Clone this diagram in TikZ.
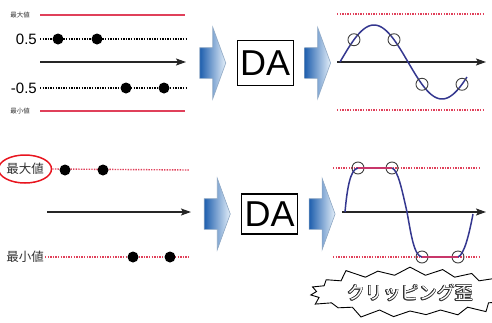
\documentclass[tikz,border=0pt]{standalone}
\usepackage{fontspec}
\setmainfont{Liberation Sans}
\newfontfamily\jpfont{Noto Sans CJK JP}
\usepackage{contour}
\usetikzlibrary{arrows.meta,positioning,shapes.arrows,shapes.symbols,shapes.geometric}
\definecolor{limitred}{HTML}{E0405A}
\definecolor{ringred}{HTML}{E8141E}
\definecolor{wave}{HTML}{34378F}
\definecolor{clipred}{HTML}{C8366A}
\definecolor{arrowdark}{HTML}{1F5FAE}
\definecolor{arrowlight}{HTML}{E4EFF9}
\definecolor{arrowframe}{HTML}{8FA8C4}
\contourlength{0.5pt}

\begin{document}
\begin{tikzpicture}[x=1pt, y=-1pt,
  node distance=10.5pt,
  dot/.style={circle, fill=black, inner sep=0pt, minimum size=11pt},
  ring/.style={circle, draw=black!75, line width=0.9pt, inner sep=0pt, minimum size=12pt},
  sample/.style={line width=1.4pt, dash pattern=on 1.4pt off 1.2pt},
  limit/.style={draw=limitred, line width=1.2pt},
  limitdot/.style={color=limitred, line width=1.4pt, dash pattern=on 1.4pt off 1.2pt},
  axis/.style={draw=black!85, line width=1.4pt, -{Stealth[length=10pt, width=7pt, inset=2pt]}},
  signal/.style={draw=wave, line width=1.5pt},
  blockarr/.style={single arrow, inner xsep=0pt, inner ysep=15pt, minimum height=26pt,
                   single arrow head extend=20.5pt, single arrow tip angle=140,
                   left color=arrowdark, right color=arrowlight, draw=arrowframe, line width=0.6pt},
  dabox/.style={draw, line width=1.2pt, inner sep=0pt, minimum width=56pt,
                font=\fontsize{36}{40}\selectfont},
  tag/.style={font=\jpfont\fontsize{12.5}{14}\selectfont, text=black!80, inner sep=1pt},
  smalltag/.style={font=\jpfont\fontsize{6.5}{8}\selectfont, text=black!80, inner sep=0pt},
  value/.style={font=\fontsize{15}{17}\selectfont, inner sep=0pt}
]
\useasboundingbox (0,0) rectangle (492,322);

% --- top row: within range ---
\node[smalltag, anchor=east] (maxA) at (30,15) {最大値};
\node[value, anchor=east] (hiA) at (37,39) {0.5};
\node[value, anchor=east] (loA) at (37,88) {-0.5};
\node[smalltag, anchor=east] (minA) at (30,111) {最小値};
\coordinate (maxAe) at (185,15);
\coordinate (hiAe) at (186,39);
\coordinate (loAe) at (186,88);
\coordinate (minAe) at (185,111);
\draw[limit] ([xshift=10pt]maxA.east) -- (maxAe);
\draw[sample] ([xshift=3pt]hiA.east) -- (hiAe);
\draw[sample] ([xshift=3pt]loA.east) -- (loAe);
\draw[limit] ([xshift=10pt]minA.east) -- (minAe);
\coordinate (axAs) at (40,62);
\coordinate (axAe) at (186,62);
\draw[axis] (axAs) -- (axAe);
\foreach \x in {58,97} \node[dot] at (\x,39) {};
\foreach \x in {126,164} \node[dot] at (\x,88) {};

\node[blockarr] (inA) at (210,63) {};
\node[dabox, minimum height=45pt, right=of inA] (daA) {DA};
\node[blockarr, right=of daA] (outA) {};

\coordinate (tlA) at (337,14);
\coordinate (trA) at (485,14);
\coordinate (blA) at (337,110);
\coordinate (brA) at (485,110);
\draw[limitdot] (tlA) -- (trA);
\draw[limitdot] (blA) -- (brA);
\coordinate (axBs) at (337,62);
\coordinate (axBe) at (486,62);
\draw[axis] (axBs) -- (axBe);
\draw[signal] plot[domain=0:336, samples=90, smooth]
  ({340+\x*0.37778}, {62-37*sin(\x)});
\foreach \p in {37,143,217,323}
  \node[ring] at ({340+\p*0.37778}, {62-37*sin(\p)}) {};

% --- bottom row: clipped ---
\node[tag, ellipse, draw=ringred, line width=1.5pt, inner sep=0pt,
      minimum width=44pt, minimum height=28pt] (maxB) at (25,169) {最大値};
\node[tag, anchor=east] (minB) at (45,257) {最小値};
\coordinate (maxBe) at (190,170);
\coordinate (minBe) at (190,257);
\draw[limitdot] (maxB.east) -- (maxBe);
\draw[limitdot] (minB.east) -- (minBe);
\coordinate (axCs) at (47,212);
\coordinate (axCe) at (191,212);
\draw[axis] (axCs) -- (axCe);
\foreach \x in {65,103} \node[dot] at (\x,170) {};
\foreach \x in {133,170} \node[dot] at (\x,257) {};

\node[blockarr] (inB) at (214.5,214) {};
\node[dabox, minimum height=40pt, right=of inB] (daB) {DA};
\node[blockarr, right=of daB] (outB) {};

\coordinate (tlB) at (333,168);
\coordinate (trB) at (480,168);
\coordinate (blB) at (333,257);
\coordinate (brB) at (480,257);
\draw[limitdot] (tlB) -- (trB);
\draw[limitdot] (blB) -- (brB);
\coordinate (axDs) at (342,212);
\coordinate (axDe) at (486,212);
\draw[axis] (axDs) -- (axDe);
\coordinate (sgS) at (345,212);
\coordinate (sgE) at (473,214);
\node[ring] (pkA) at (358,168) {};
\node[ring] (pkB) at (392,168) {};
\node[ring] (trgA) at (422,257) {};
\node[ring] (trgB) at (458,257) {};
\draw[signal] (sgS) .. controls (347,190) and (350,169) .. (pkA.center);
\draw[signal] (pkB.center) .. controls (398,170) and (402,190) .. (407,212)
  .. controls (411,234) and (414,256) .. (trgA.center);
\draw[signal] (trgB.center) .. controls (464,255) and (469,235) .. (sgE);
\draw[clipred, line width=1.5pt] (pkA.center) -- (pkB.center);
\draw[clipred, line width=1.5pt] (trgA.center) -- (trgB.center);

\node[starburst, draw, fill=white, line width=0.9pt, starburst points=19,
      starburst point height=11pt, minimum width=152pt, minimum height=58pt,
      font=\jpfont\fontsize{18}{20}\selectfont] (clip) at (410,293)
     {\contour{black!80}{\textcolor{white}{クリッピング歪}}};
\end{tikzpicture}
\end{document}
